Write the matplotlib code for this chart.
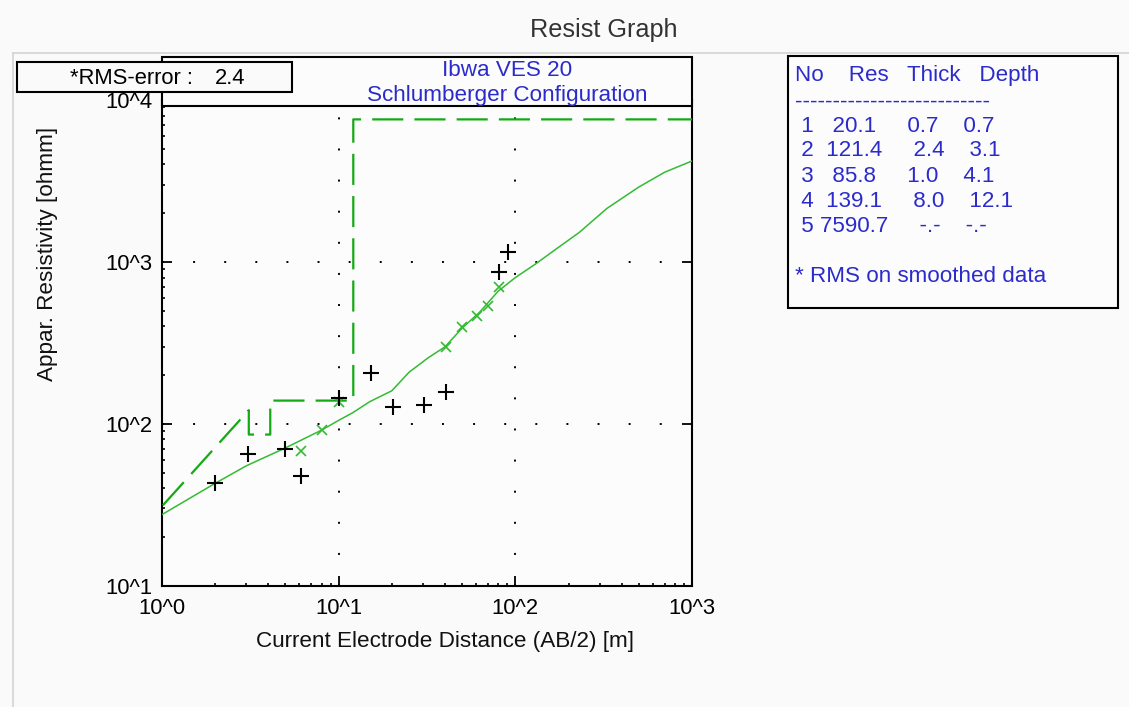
import numpy as np
import matplotlib
matplotlib.use("Agg")
import matplotlib.pyplot as plt
from matplotlib.patches import Rectangle
from matplotlib.lines import Line2D
from matplotlib.ticker import FixedLocator, FixedFormatter, LogLocator, NullFormatter

plt.rcParams['font.family'] = ['Liberation Sans', 'DejaVu Sans']

# field data (AB/2 in m, apparent resistivity in ohmm)
ab2_meas = [2.0, 3.05, 5.0, 6.1, 10.0, 15.2, 20.2, 30.3, 40.3, 81.0, 91.0]
rho_meas = [42.9, 64.7, 69.8, 47.5, 143.5, 205, 127, 130, 158, 867, 1153]

# smoothed data
ab2_smooth = [6.1, 8.1, 10.0, 40.3, 50.2, 61, 70.3, 81.0]
rho_smooth = [68, 91.4, 137, 297, 396, 462, 533, 695]

# calculated model curve
ab2_model = [1, 2, 3, 5, 8, 10, 12, 15, 20, 25, 32, 40, 50, 63, 80, 100, 130, 170, 230,
             330, 500, 700, 1000]
rho_model = [27.5, 42.9, 55, 71, 91.4, 105, 117, 137, 160, 208, 255, 299, 390, 491, 660,
             800, 970, 1200, 1520, 2140, 2900, 3580, 4200]

# layer model
layer_no = [1, 2, 3, 4, 5]
layer_res = [20.1, 121.4, 85.8, 139.1, 7590.7]
layer_thick = [0.7, 2.4, 1.0, 8.0]
layer_depth = [0.7, 3.1, 4.1, 12.1]

W, H = 1129, 707
fig = plt.figure(figsize=(W / 100, H / 100), dpi=100)
fig.patch.set_facecolor('#fafafa')


def fx(px):
    return px / W


def fy(py):
    return 1 - py / H


# window chrome
fig.add_artist(Line2D([fx(13), 1], [fy(53), fy(53)], color='#d4d4d4', lw=1.2))
fig.add_artist(Line2D([fx(13), fx(13)], [fy(53), 0], color='#d4d4d4', lw=1.2))
fig.text(fx(604), fy(30), 'Resist Graph', ha='center', va='center', fontsize=18.2, color='#333333')

ax = fig.add_axes([fx(162), fy(585.7), fx(692 - 162), (585.7 - 100) / H])
ax.set_facecolor('#fcfcfc')
ax.set_xscale('log')
ax.set_yscale('log')
ax.set_xlim(1, 1000)
ax.set_ylim(10, 10000)

# step model line (drawn the way the program draws it)
mx = [layer_depth[0], layer_depth[1], layer_depth[1], layer_depth[2], layer_depth[2],
      layer_depth[3], layer_depth[3], 1000]
my = [layer_res[0], layer_res[1], layer_res[2], layer_res[2], layer_res[3],
      layer_res[3], layer_res[4], layer_res[4]]
ax.plot(mx, my, color='#14aa14', lw=1.6, ls=(0, (14, 5)), zorder=3)
ax.plot(ab2_model, rho_model, color='#33bb33', lw=1.1, zorder=3)
ax.plot(ab2_smooth, rho_smooth, 'x', color='#33bb33', ms=7, mew=1.2, zorder=4)
ax.plot(ab2_meas, rho_meas, '+', color='black', ms=11, mew=1.5, zorder=5)

ax.xaxis.set_major_locator(FixedLocator([1, 10, 100, 1000]))
ax.xaxis.set_major_formatter(FixedFormatter(['10^0', '10^1', '10^2', '10^3']))
ax.yaxis.set_major_locator(FixedLocator([10, 100, 1000, 10000]))
ax.yaxis.set_major_formatter(FixedFormatter(['10^1', '10^2', '10^3', '10^4']))
ax.xaxis.set_minor_locator(LogLocator(base=10, subs=np.arange(2, 10)))
ax.yaxis.set_minor_locator(LogLocator(base=10, subs=np.arange(2, 10)))
ax.xaxis.set_minor_formatter(NullFormatter())
ax.yaxis.set_minor_formatter(NullFormatter())

ax.tick_params(which='major', direction='in', length=7, width=1.3, labelsize=15.8,
               left=True, right=True, bottom=True, top=False)
ax.tick_params(axis='x', which='major', pad=9)
ax.tick_params(axis='y', which='major', pad=7)
ax.tick_params(which='minor', direction='in', length=2.5, width=1.2,
               left=True, bottom=True, right=False, top=False)
for s in ax.spines.values():
    s.set_linewidth(1.5)

ax.grid(which='major', color='black', lw=1.4, ls=(0, (1, 15)))

fig.text(fx(445.5), fy(641), 'Current Electrode Distance (AB/2) [m]', ha='center', va='center',
         fontsize=16.2, color='#111111')
fig.text(fx(48), fy(254), 'Appar. Resistivity [ohmm]', ha='center', va='center',
         rotation=90, fontsize=16.2, color='#111111')

# title box
fig.add_artist(Rectangle((fx(162), fy(106)), fx(692 - 162), (106 - 57) / H,
                         facecolor='#fcfcfc', edgecolor='black', lw=1.5, zorder=5))
blue = '#2b2bcc'
fig.text(fx(507), fy(71), 'Ibwa VES 20', ha='center', va='center', fontsize=16.2, color=blue, zorder=6)
fig.text(fx(507), fy(95), 'Schlumberger Configuration', ha='center', va='center', fontsize=16.2,
         color=blue, zorder=6)

# rms box
fig.add_artist(Rectangle((fx(17), fy(92)), fx(292 - 17), (92 - 62) / H,
                         facecolor='#fafafa', edgecolor='black', lw=1.5, zorder=7))
fig.text(fx(70), fy(78), '*RMS-error :', ha='left', va='center', fontsize=15.8, color='black', zorder=8)
fig.text(fx(215), fy(78), '2.4', ha='left', va='center', fontsize=15.8, color='black', zorder=8)

# layer table
fig.add_artist(Rectangle((fx(788), fy(308)), fx(1118 - 788), (308 - 56) / H,
                         facecolor='#fcfcfc', edgecolor='black', lw=1.5, zorder=5))
rows = ['No    Res   Thick   Depth', '-' * 26]
for i, n in enumerate(layer_no):
    if i < len(layer_thick):
        sp = '   ' if layer_res[i] < 100 else '  '
        rows.append(' %d%s%s     %s    %s' % (n, sp, layer_res[i], layer_thick[i], layer_depth[i]))
    else:
        rows.append(' %d %s     -.-    -.-' % (n, layer_res[i]))
row_y = [75, 101.7, 126, 150.7, 176, 201.7, 226.7]
for txt, yy in zip(rows, row_y):
    fig.text(fx(795), fy(yy), txt, ha='left', va='center', fontsize=16.1, color=blue, zorder=6)
fig.text(fx(795), fy(276.7), '* RMS on smoothed data', ha='left', va='center', fontsize=16.1,
         color=blue, zorder=6)

fig.savefig('out.png', dpi=100, facecolor=fig.get_facecolor())
